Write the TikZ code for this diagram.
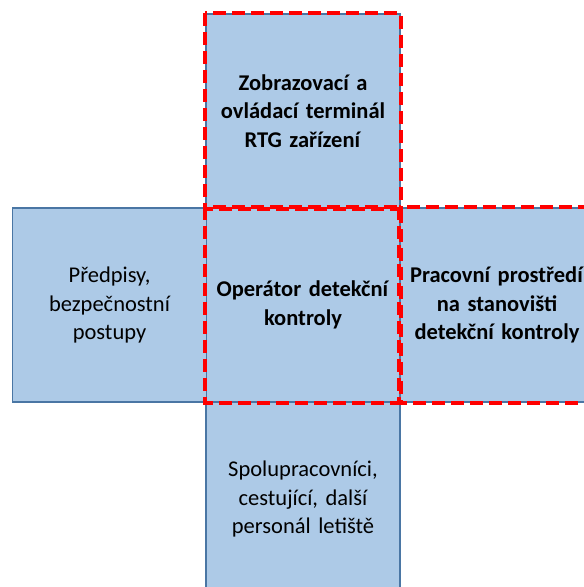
\documentclass[tikz,border=0pt]{standalone}
\usepackage{fontspec}
\setmainfont{Carlito}
\begin{document}
\begin{tikzpicture}[x=1pt,y=-1pt,
  cell/.style={draw=cellborder, line width=1.2pt, fill=cellfill,
    minimum width=194pt, minimum height=194pt, inner sep=0pt,
    text width=190pt, align=center, font=\fontsize{22.5}{28.5}\selectfont},
  focus/.style={draw=red, line width=4pt, dash pattern=on 13pt off 6pt}]
\definecolor{cellfill}{HTML}{ADCAE7}
\definecolor{cellborder}{HTML}{4A76A4}
\useasboundingbox (0,0) rectangle (584,587);
\clip (0,0) rectangle (584,587);
% five cells arranged as a cross
\node[cell] (top) at (303,111) {\textbf{Zobrazovací a}\\\textbf{ovládací terminál}\\\textbf{RTG zařízení}};
\node[cell] (mid) at (303,305) {\textbf{Operátor detekční}\\\textbf{kontroly}};
\node[cell] (left) at (109.5,305) {Předpisy,\\bezpečnostní\\postupy};
\node[cell] (right) at (497,305) {\textbf{Pracovní prostředí}\\\textbf{na stanovišti}\\\textbf{detekční kontroly}};
\node[cell] (bottom) at (303,499) {Spolupracovníci,\\cestující, další\\personál letiště};
% highlighted cells
\draw[focus] (top.north west) rectangle (top.south east);
\draw[focus] (right.north west) rectangle (right.south east);
\draw[focus] (mid.north west) rectangle (mid.south east);
\end{tikzpicture}
\end{document}
